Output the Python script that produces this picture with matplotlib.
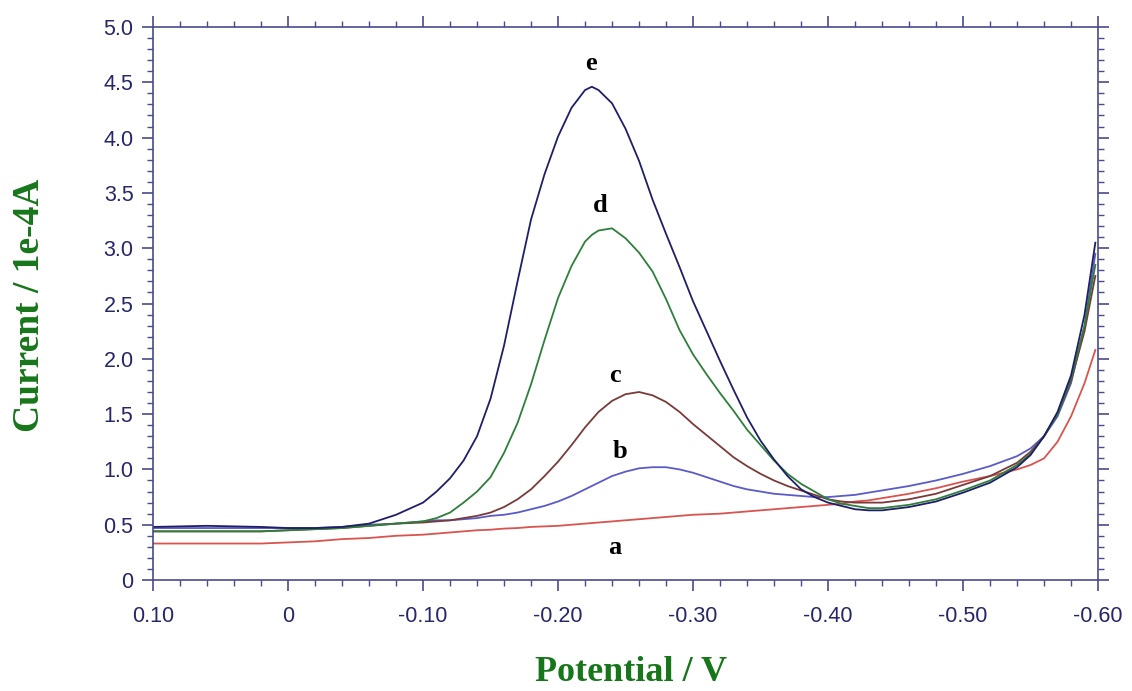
import numpy as np
import matplotlib
matplotlib.use("Agg")
from matplotlib import pyplot as plt
from matplotlib.ticker import MultipleLocator, FixedLocator, FixedFormatter

# potential grid (V) shared by all curves
potential = [0.10, 0.06, 0.02, 0.0, -0.02, -0.04, -0.06, -0.08,
             -0.10, -0.11, -0.12, -0.13, -0.14, -0.15, -0.16, -0.17, -0.18, -0.19,
             -0.20, -0.21, -0.22, -0.225, -0.23, -0.24, -0.25, -0.26, -0.27, -0.28, -0.29,
             -0.30, -0.31, -0.32, -0.33, -0.34, -0.35, -0.36, -0.37, -0.38, -0.39,
             -0.40, -0.41, -0.42, -0.43, -0.44,
             -0.46, -0.48, -0.50, -0.52, -0.54, -0.55, -0.56, -0.57, -0.58, -0.59, -0.598]

# current (1e-4 A)
cur_a = [0.33, 0.33, 0.33, 0.34, 0.35, 0.37, 0.38, 0.40,
         0.41, 0.42, 0.43, 0.44, 0.45, 0.455, 0.465, 0.47, 0.48, 0.485,
         0.49, 0.50, 0.51, 0.515, 0.52, 0.53, 0.54, 0.55, 0.56, 0.57, 0.58,
         0.59, 0.595, 0.60, 0.61, 0.62, 0.63, 0.64, 0.65, 0.66, 0.67,
         0.68, 0.69, 0.71, 0.72, 0.74,
         0.78, 0.83, 0.89, 0.94, 1.00, 1.04, 1.10, 1.25, 1.48, 1.78, 2.08]
cur_b = [0.47, 0.47, 0.47, 0.47, 0.47, 0.48, 0.50, 0.51,
         0.53, 0.54, 0.54, 0.55, 0.56, 0.58, 0.59, 0.61, 0.64, 0.67,
         0.71, 0.76, 0.82, 0.85, 0.88, 0.94, 0.98, 1.01, 1.02, 1.02, 1.00,
         0.97, 0.93, 0.89, 0.85, 0.82, 0.80, 0.78, 0.77, 0.76, 0.75,
         0.75, 0.76, 0.77, 0.79, 0.81,
         0.85, 0.90, 0.96, 1.03, 1.12, 1.19, 1.30, 1.48, 1.78, 2.30, 2.95]
cur_c = [0.44, 0.44, 0.44, 0.45, 0.46, 0.47, 0.49, 0.51,
         0.52, 0.53, 0.54, 0.56, 0.58, 0.61, 0.66, 0.73, 0.82, 0.94,
         1.07, 1.22, 1.38, 1.45, 1.52, 1.62, 1.68, 1.70, 1.67, 1.61, 1.52,
         1.41, 1.31, 1.21, 1.11, 1.03, 0.96, 0.90, 0.85, 0.81, 0.77,
         0.73, 0.71, 0.70, 0.70, 0.70,
         0.73, 0.78, 0.86, 0.94, 1.06, 1.16, 1.30, 1.50, 1.80, 2.25, 2.75]
cur_d = [0.44, 0.44, 0.44, 0.45, 0.46, 0.47, 0.49, 0.51,
         0.53, 0.56, 0.61, 0.70, 0.80, 0.93, 1.15, 1.42, 1.77, 2.17,
         2.55, 2.84, 3.06, 3.12, 3.16, 3.18, 3.09, 2.96, 2.79, 2.54, 2.26,
         2.04, 1.86, 1.69, 1.53, 1.36, 1.22, 1.08, 0.96, 0.87, 0.80,
         0.73, 0.69, 0.67, 0.65, 0.65,
         0.68, 0.73, 0.81, 0.90, 1.04, 1.14, 1.30, 1.50, 1.82, 2.30, 2.85]
cur_e = [0.48, 0.49, 0.48, 0.47, 0.47, 0.48, 0.51, 0.59,
         0.70, 0.80, 0.92, 1.08, 1.30, 1.64, 2.12, 2.70, 3.26, 3.67,
         4.01, 4.27, 4.43, 4.46, 4.43, 4.31, 4.08, 3.79, 3.44, 3.13, 2.83,
         2.52, 2.25, 1.98, 1.72, 1.47, 1.26, 1.09, 0.94, 0.82, 0.75,
         0.70, 0.67, 0.64, 0.63, 0.63,
         0.66, 0.71, 0.79, 0.88, 1.02, 1.13, 1.30, 1.52, 1.85, 2.40, 3.05]

curve_names = ["a", "b", "c", "d", "e"]
label_x = [-0.242, -0.246, -0.242, -0.231, -0.224]
label_y = [0.29, 1.16, 1.85, 3.39, 4.67]

x_ticks = [0.10, 0.0, -0.10, -0.20, -0.30, -0.40, -0.50, -0.60]
x_ticklabels = ["0.10", "0", "-0.10", "-0.20", "-0.30", "-0.40", "-0.50", "-0.60"]
y_ticks = [0, 0.5, 1.0, 1.5, 2.0, 2.5, 3.0, 3.5, 4.0, 4.5, 5.0]
y_ticklabels = ["0", "0.5", "1.0", "1.5", "2.0", "2.5", "3.0", "3.5", "4.0", "4.5", "5.0"]

colors = ["#d9544f", "#5a5ac8", "#7a3a3a", "#2e7f3a", "#1e1e6a"]
axis_col = "#4a4a8e"
tick_col = "#26266a"
green = "#17761a"

fig = plt.figure(figsize=(11.32, 6.91), dpi=100)
ax = fig.add_axes([0.1352, 0.1606, 0.8348, 0.8003])

for cur, col in zip([cur_a, cur_b, cur_c, cur_d, cur_e], colors):
    ax.plot(potential, cur, color=col, lw=1.3)

for name, lx, ly in zip(curve_names, label_x, label_y):
    ax.text(lx, ly, name, fontsize=19, fontweight="bold", family="Liberation Serif",
            ha="center", va="center", color="black")

ax.set_xlim(0.10, -0.60)
ax.set_ylim(0, 5.0)
ax.xaxis.set_major_locator(FixedLocator(x_ticks))
ax.xaxis.set_major_formatter(FixedFormatter(x_ticklabels))
ax.xaxis.set_minor_locator(MultipleLocator(0.02))
ax.yaxis.set_major_locator(FixedLocator(y_ticks))
ax.yaxis.set_major_formatter(FixedFormatter(y_ticklabels))
ax.yaxis.set_minor_locator(MultipleLocator(0.1))

ax.tick_params(which="both", direction="out", top=True, right=True,
               color=axis_col, labelcolor=tick_col)
ax.tick_params(which="major", length=8, width=1.2, labelsize=15.5)
ax.tick_params(axis="x", which="major", pad=11)
ax.tick_params(axis="y", which="major", pad=6)
ax.tick_params(which="minor", length=4, width=1.0)
for lab in ax.get_xticklabels() + ax.get_yticklabels():
    lab.set_family("Liberation Sans")
for sp in ax.spines.values():
    sp.set_color(axis_col)
    sp.set_linewidth(1.2)

ax.set_xlabel("Potential / V", fontsize=26, fontweight="bold",
              family="Liberation Serif", color=green)
ax.set_ylabel("Current / 1e-4A", fontsize=27, fontweight="bold",
              family="Liberation Serif", color=green)
ax.xaxis.set_label_coords(0.506, -0.138)
ax.yaxis.set_label_coords(-0.112, 0.497)

fig.savefig("out.png", dpi=100)
